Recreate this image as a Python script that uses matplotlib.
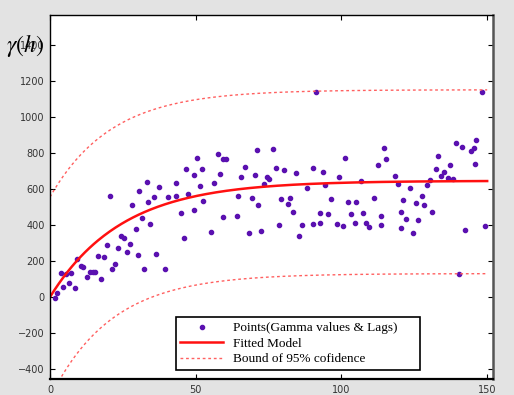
import numpy as np
import matplotlib.pyplot as plt
from matplotlib.lines import Line2D

# lag (h) and semivariance values
lags = [1.6, 2.5, 4.5, 3.7, 5.6, 6.5, 7.3, 8.5, 9.4, 10.5, 11.3, 12.8, 13.6, 14.8,
        15.6, 17.4, 16.5, 18.5, 20.5, 19.4, 21.4, 22.2, 23.3, 24.2, 25.4, 26.4, 27.3,
        28.3, 29.5, 30.4, 30.3, 31.6, 32.4, 33.3, 33.5, 34.4, 35.6, 36.5, 37.3, 39.4,
        40.5, 43.4, 43.4, 45.0, 46.1, 46.6, 47.5, 49.4, 49.4, 50.6, 51.5, 52.1, 52.6,
        55.3, 56.4, 57.6, 58.4, 59.5, 60.3, 59.5, 64.1, 64.4, 65.6, 66.9, 68.4, 69.2,
        70.4, 70.9, 71.3, 72.4, 73.3, 74.4, 75.3, 76.4, 77.5, 78.6, 79.3,
        80.4, 81.5, 82.5, 83.5, 84.3, 85.5, 86.4, 88.3, 90.4, 90.4, 91.4, 92.5, 92.5,
        93.6, 94.4, 95.5, 96.5, 98.4, 99.3, 100.5, 101.3, 102.4, 103.3, 104.5, 105.0,
        106.6, 107.4, 108.5, 109.4, 111.3, 112.6, 113.4, 113.5, 114.5, 115.4, 118.3,
        119.5, 120.3, 120.4, 121.2, 122.3, 123.5, 124.4, 125.5, 126.4, 127.5, 128.4,
        129.5, 130.5, 131.0, 132.3, 133.3, 134.3, 135.3, 136.4, 137.4, 138.4, 139.4,
        141.3, 142.5, 144.5, 145.5, 146.2, 145.7, 148.3, 149.4, 140.5]
gamma = [-4, 24, 54, 131, 128, 76, 131, 48, 213, 174, 167, 111, 141, 141,
         137, 100, 228, 224, 559, 291, 156, 182, 274, 341, 326, 252, 294,
         513, 378, 591, 233, 437, 154, 641, 526, 406, 556, 237, 611, 157,
         556, 635, 559, 467, 326, 713, 574, 678, 485, 770, 617, 713, 531,
         359, 630, 794, 681, 765, 765, 446, 450, 559, 667, 722, 354, 552,
         676, 818, 513, 368, 626, 667, 657, 822, 717, 400, 544,
         706, 517, 550, 474, 687, 341, 400, 607, 717, 406, 1135, 465, 409,
         691, 619, 459, 543, 406, 667, 394, 774, 526, 459, 413, 526,
         644, 465, 413, 389, 552, 733, 452, 400, 826, 767, 669,
         628, 470, 383, 539, 435, 606, 354, 522, 428, 559, 513,
         619, 650, 474, 709, 780, 674, 691, 659, 733, 654, 854,
         835, 372, 811, 826, 872, 737, 1139, 394, 128]

# exponential model parameters (fitted curve and 95% bounds)
sill, rng = 645, 24.7
up_start, up_rise, up_rng = 555, 595, 21
lo_start, lo_rise, lo_rng = -560, 690, 21

h = np.linspace(0, 150, 301)
fitted = sill * (1 - np.exp(-h / rng))
upper = up_start + up_rise * (1 - np.exp(-h / up_rng))
lower = lo_start + lo_rise * (1 - np.exp(-h / lo_rng))

fig = plt.figure(figsize=(5.14, 3.95), dpi=100, facecolor='#e3e3e3')
ax = fig.add_axes([50/514, 1 - 379/395, 443/514, 364/395])
ax.set_facecolor('white')

pt_col = '#5a10b0'
ax.plot(lags, gamma, linestyle='none', marker='o', markersize=3, color=pt_col)
ax.plot(h, fitted, color='#ff1010', linewidth=1.8)
ax.plot(h, upper, color='#ff6060', linewidth=1, linestyle=(0, (2, 2)))
ax.plot(h, lower, color='#ff6060', linewidth=1, linestyle=(0, (2, 2)))

ax.set_xlim(0, 152)
ax.set_ylim(-455, 1565)
ax.set_xticks([0, 50, 100, 150])
ax.set_yticks([-400, -200, 0, 200, 400, 600, 800, 1000, 1200, 1400])
ax.tick_params(direction='in', length=3.5, top=True, right=True,
               labelsize=7, labelcolor='#333333', pad=4)
for s in ax.spines.values():
    s.set_linewidth(1.0)
ax.spines['right'].set_linewidth(1.8)
ax.spines['right'].set_color('#555555')
ax.spines['bottom'].set_linewidth(1.6)

handles = [Line2D([], [], linestyle='none', marker='o', markersize=3, color=pt_col),
           Line2D([], [], color='#ff1010', linewidth=1.8),
           Line2D([], [], color='#ff6060', linewidth=1, linestyle=(0, (2, 2)))]
labels = ['Points(Gamma values & Lags)', 'Fitted Model', 'Bound of 95% cofidence']
leg = ax.legend(handles, labels, loc='lower left',
                bbox_to_anchor=(0.284, 0.025, 0.551, 0.179), mode='expand',
                prop={'family': 'Liberation Serif', 'size': 9.5},
                frameon=True, fancybox=False, framealpha=1, borderaxespad=0,
                handlelength=3.2, labelspacing=0.25, borderpad=0.35)
leg.get_frame().set_edgecolor('black')
leg.get_frame().set_linewidth(1.2)

# axis label drawn over the 1400 tick label, as in the original
plt.rcParams['mathtext.fontset'] = 'stix'
fig.text(0.012, 0.885, r'$\gamma(h)$', fontsize=17, va='center', ha='left')

fig.savefig('out.png', dpi=100, facecolor=fig.get_facecolor())
